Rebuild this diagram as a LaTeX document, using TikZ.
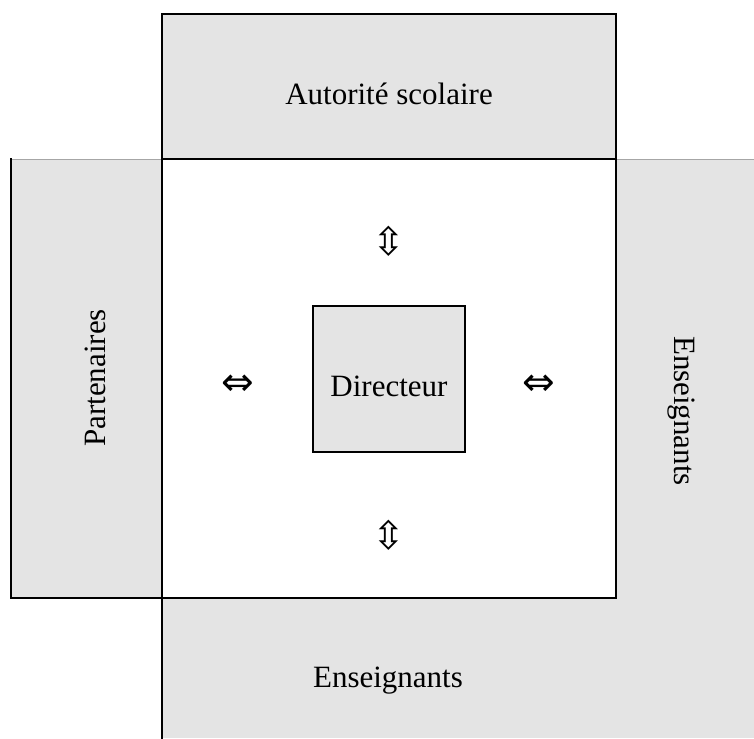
\documentclass[tikz,border=0pt]{standalone}
\usepackage{fontspec}
\setmainfont{Liberation Serif}
\newfontfamily\arrowfont{DejaVu Sans}
\definecolor{cellgray}{HTML}{E4E4E4}
\tikzset{
  cell/.style={fill=cellgray},
  rule/.style={line width=1.6pt, line cap=rect},
  celltext/.style={inner sep=0pt, anchor=base, font=\fontsize{31}{37}\selectfont},
  link/.style={inner sep=0pt, font=\arrowfont\fontsize{39}{46}\selectfont}
}
\begin{document}
\begin{tikzpicture}[x=1pt, y=-1pt]
\useasboundingbox (0,0) rectangle (754,738);
% grey cells round the square
\fill[cell] (162,14) rectangle (616,159);
\fill[cell] (11,159) rectangle (162,598);
\fill[cell] (616,159) rectangle (754,598);
\fill[cell] (162,598) rectangle (754,738);
\draw[gray!70, line width=0.8pt] (11,159) -- (162,159);
\draw[gray!70, line width=0.8pt] (616,159) -- (754,159);
% black borders
\draw[rule] (162,159) -- (162,14) -- (616,14) -- (616,159);
\draw[rule] (162,598) -- (11,598) -- (11,159);
\draw[rule] (162,598) -- (162,738);
\draw[rule] (162,159) rectangle (616,598);

\node[cell, draw, rule, minimum width=152pt, minimum height=146pt, inner sep=0pt] (dir) at (389,379) {};
\node[celltext] (dirtext) at (389,396) {Directeur};

\node[celltext] (autorite) at (389,105) {Autorité scolaire};
\node[celltext] (ensbas) at (388,687) {Enseignants};
\node[celltext, rotate=90] (partenaires) at (105,378) {Partenaires};
\node[celltext, rotate=-90] (ensdroite) at (674,411) {Enseignants};

% double arrows round the director
\foreach \nm/\x/\y/\s in {up/389/241/⇳, down/389/535/⇳, left/238/385/⇔, right/539/385/⇔}
  \node[link] (\nm) at (\x,\y) {\s};
\end{tikzpicture}
\end{document}
